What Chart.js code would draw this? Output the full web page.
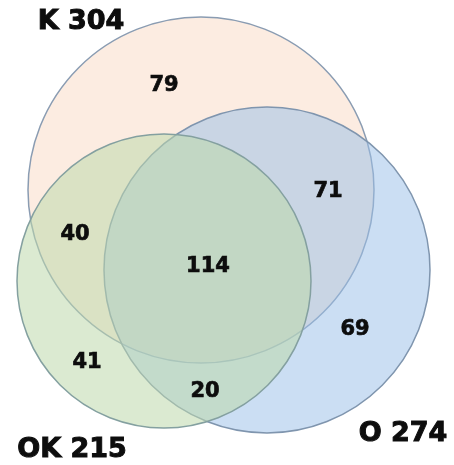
<!DOCTYPE html>
<html>
<head>
<meta charset="utf-8">
<script src="https://cdn.jsdelivr.net/npm/chart.js@4"></script>
<style>
  html, body { margin: 0; padding: 0; background: #fff; }
  #wrap { width: 454px; height: 465px; position: relative; }
</style>
</head>
<body>
<div id="wrap"><canvas id="venn"></canvas></div>
<script>
// sets: name, circle centre and radius (plot units, 1 unit = 1 px here)
const setNames = ['K 304', 'O 274', 'OK 215'];
const circleX = [201, 267, 164];
const circleY = [190, 270, 281];
const circleR = [173, 163, 147];
const labelX = [81, 403, 72];
const labelY = [22, 434, 450];

// region counts and where they sit
const regionCounts = [79, 71, 40, 114, 69, 41, 20];
const regionX = [164, 328, 75, 208, 355, 87, 205];
const regionY = [86, 192, 235, 267, 330, 363, 392];

const fills = ['rgba(248, 203, 173, 0.36)', 'rgba(156, 192, 232, 0.52)', 'rgba(190, 216, 172, 0.55)'];
const strokes = ['#8a9cb2', '#7f95ae', '#84a0a0'];

const textPlugin = {
  id: 'vennText',
  afterDatasetsDraw(chart) {
    const { ctx, scales } = chart;
    ctx.save();
    ctx.fillStyle = '#0d0d0d';
    ctx.strokeStyle = '#0d0d0d';
    ctx.textAlign = 'center';
    ctx.textBaseline = 'middle';
    ctx.lineWidth = 0.7;
    ctx.font = 'bold 21px "DejaVu Sans"';
    regionCounts.forEach((n, i) => {
      const x = scales.x.getPixelForValue(regionX[i]);
      const y = scales.y.getPixelForValue(regionY[i]);
      ctx.fillText(String(n), x, y);
      ctx.strokeText(String(n), x, y);
    });
    ctx.lineWidth = 1;
    ctx.font = 'bold 27px "DejaVu Sans"';
    setNames.forEach((s, i) => {
      const x = scales.x.getPixelForValue(labelX[i]);
      const y = scales.y.getPixelForValue(labelY[i]);
      ctx.fillText(s, x, y);
      ctx.strokeText(s, x, y);
    });
    ctx.restore();
  }
};

new Chart(document.getElementById('venn'), {
  type: 'bubble',
  data: {
    datasets: setNames.map((name, i) => ({
      label: name,
      data: [{ x: circleX[i], y: circleY[i], r: circleR[i] }],
      backgroundColor: fills[i],
      borderColor: strokes[i],
      borderWidth: 1.5,
      order: setNames.length - i, // K at the bottom, OK on top
      clip: false,
    })),
  },
  options: {
    responsive: true,
    maintainAspectRatio: false,
    animation: false,
    events: [],
    layout: { padding: 0, autoPadding: false },
    plugins: { legend: { display: false }, tooltip: { enabled: false } },
    scales: {
      x: { type: 'linear', min: 0, max: 454, display: false },
      y: { type: 'linear', min: 0, max: 465, reverse: true, display: false },
    },
  },
  plugins: [textPlugin],
});
</script>
</body>
</html>
